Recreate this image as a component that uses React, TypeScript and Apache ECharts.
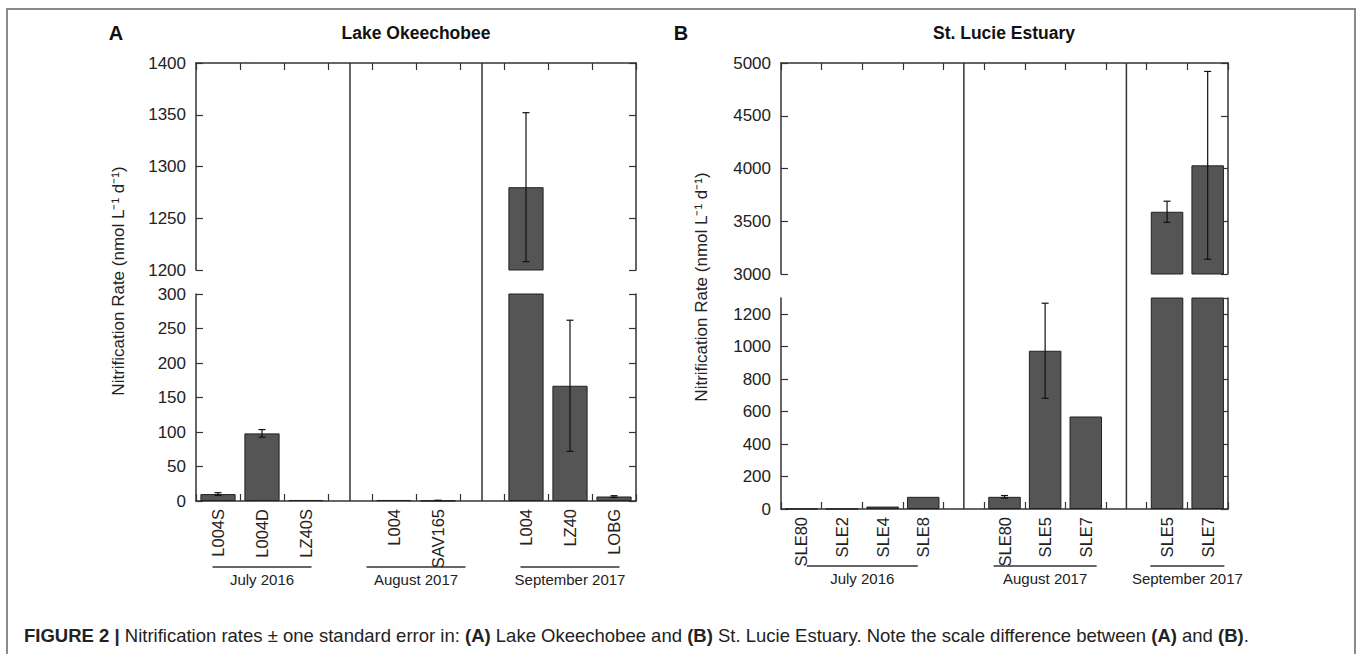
import React, { useEffect, useRef } from "react";
import * as echarts from "echarts";

// ---------- Panel A: Lake Okeechobee ----------
const sitesA = ["L004S", "L004D", "LZ40S", "", "L004", "SAV165", "", "L004", "LZ40", "LOBG"];
const ratesA = [10, 98, 1.5, null, 1.5, 0.5, null, 1280, 167, 6.5];
const seA = [2, 5.5, 0, null, 0, 0.6, null, 72, 95, 1.2];
const groupsA = ["July 2016", "August 2017", "September 2017"];
const groupSpansA = [[0, 2], [4, 5], [7, 9]];
const upperRangeA = [1200, 1400, 50]; // min, max, interval
const lowerRangeA = [0, 300, 50];

// ---------- Panel B: St. Lucie Estuary ----------
const sitesB = ["SLE80", "SLE2", "SLE4", "SLE8", "", "SLE80", "SLE5", "SLE7", "", "SLE5", "SLE7"];
const ratesB = [0, 0, 15, 75, null, 75, 975, 570, null, 3590, 4030];
const seB = [0, 0, 0, 0, null, 8, 293, 0, null, 100, 890];
const groupsB = ["July 2016", "August 2017", "September 2017"];
const groupSpansB = [[0, 3], [5, 7], [9, 10]];
const upperRangeB = [3000, 5000, 500];
const lowerRangeB = [0, 1300, 200];

const titles = ["Lake Okeechobee", "St. Lucie Estuary"];
const letters = ["A", "B"];
const yAxisName = "Nitrification Rate (nmol L\u207B\u00B9 d\u207B\u00B9)";

// ---------- layout / style ----------
const FONT = "'Liberation Sans', Arial, Helvetica, sans-serif";
const AXIS_COLOR = "#333333";
const TEXT_COLOR = "#222222";
const BAR_FILL = "#555555";

const GRIDS = [
  { left: 196, top: 63, width: 440, height: 207 },
  { left: 196, top: 294, width: 440, height: 207 },
  { left: 781, top: 63, width: 447, height: 211 },
  { left: 781, top: 298, width: 447, height: 211 },
];

const PANEL_LAYOUT = [
  { letterX: 116, titleX: 416, nameX: 118, nameY: 281, lineDy: 66, textDy: 78, halfW: [49.5, 49.5, 49.5] },
  { letterX: 681, titleX: 1004, nameX: 701, nameY: 287, lineDy: 57, textDy: 69, halfW: [55.5, 51.5, 37] },
];

const panels = [
  { sites: sitesA, rates: ratesA, se: seA, groups: groupsA, spans: groupSpansA, upper: upperRangeA, lower: lowerRangeA },
  { sites: sitesB, rates: ratesB, se: seB, groups: groupsB, spans: groupSpansB, upper: upperRangeB, lower: lowerRangeB },
];

const errRender = (_params: any, api: any) => {
  const x = api.value(0);
  const y = api.value(1);
  const e = api.value(2);
  const top = api.coord([x, y + e]);
  const bot = api.coord([x, y - e]);
  const c = 3.5;
  const st = { stroke: "#111", lineWidth: 1.2 };
  return {
    type: "group",
    children: [
      { type: "line", shape: { x1: top[0], y1: top[1], x2: bot[0], y2: bot[1] }, style: st },
      { type: "line", shape: { x1: top[0] - c, y1: top[1], x2: top[0] + c, y2: top[1] }, style: st },
      { type: "line", shape: { x1: bot[0] - c, y1: bot[1], x2: bot[0] + c, y2: bot[1] }, style: st },
    ],
  };
};

function buildOption() {
  const grid = GRIDS.map((g) => ({ ...g, containLabel: false, outerBoundsMode: "none" }));
  const xAxis: any[] = [];
  const yAxis: any[] = [];
  const series: any[] = [];
  panels.forEach((p, pi) => {
    [p.upper, p.lower].forEach((range, ri) => {
      const gi = pi * 2 + ri;
      const isUpper = ri === 0;
      xAxis.push({
        type: "category",
        gridIndex: gi,
        data: p.sites,
        position: isUpper ? "top" : "bottom",
        boundaryGap: true,
        axisLine: { show: true, onZero: false, lineStyle: { color: AXIS_COLOR, width: 1.5 } },
        axisTick: { show: true, inside: true, length: 7, interval: 0, lineStyle: { color: AXIS_COLOR, width: 1.2 } },
        axisLabel: isUpper
          ? { show: false }
          : { show: true, interval: 0, rotate: 90, fontSize: 16.5, color: TEXT_COLOR, fontFamily: FONT, margin: 8 },
        splitLine: { show: false },
      });
      const [min, max, interval] = range;
      const common = {
        type: "value",
        gridIndex: gi,
        min,
        max,
        interval,
        splitLine: { show: false },
        axisLine: { show: true, onZero: false, lineStyle: { color: AXIS_COLOR, width: 1.5 } },
        axisTick: { show: true, inside: true, length: 7, lineStyle: { color: AXIS_COLOR, width: 1.2 } },
      };
      yAxis.push({
        ...common,
        position: "left",
        axisLabel: {
          show: true,
          fontSize: 17,
          color: TEXT_COLOR,
          fontFamily: FONT,
          margin: 10,
          showMaxLabel: max % interval === 0,
          formatter: (v: number) => String(v),
        },
      });
      yAxis.push({ ...common, position: "right", axisLabel: { show: false } });
      series.push({
        type: "bar",
        xAxisIndex: gi,
        yAxisIndex: gi * 2,
        z: 2,
        data: p.rates.map((v) => (v == null ? "-" : v)),
        barCategoryGap: "20%",
        clip: true,
        silent: true,
        itemStyle: { color: BAR_FILL, borderColor: "#222", borderWidth: 1 },
      });
      series.push({
        type: "custom",
        xAxisIndex: gi,
        yAxisIndex: gi * 2,
        z: 6,
        clip: true,
        silent: true,
        data: p.se
          .map((e, i) => [i, p.rates[i], e])
          .filter((d) => d[2] != null && (d[2] as number) > 0),
        renderItem: errRender,
      });
    });
  });
  return {
    animation: false,
    backgroundColor: "#ffffff",
    textStyle: { fontFamily: FONT },
    grid,
    xAxis,
    yAxis,
    series,
  };
}

function staticGraphics() {
  const g: any[] = [];
  g.push({
    type: "polyline",
    shape: { points: [[7, 660], [7, 9], [1355, 9], [1355, 660]] },
    style: { stroke: "#8a8a8a", lineWidth: 2, fill: null },
  });
  panels.forEach((_p, pi) => {
    const L = PANEL_LAYOUT[pi];
    g.push({
      type: "text",
      x: L.letterX,
      y: 33,
      style: {
        text: letters[pi], fontSize: 20, fontWeight: "bold", fontFamily: FONT, fill: "#111",
        align: "center", verticalAlign: "middle", textAlign: "center", textVerticalAlign: "middle",
      },
    });
    g.push({
      type: "text",
      x: L.titleX,
      y: 33,
      style: {
        text: titles[pi], fontSize: 17.5, fontWeight: "bold", fontFamily: FONT, fill: "#111",
        align: "center", verticalAlign: "middle", textAlign: "center", textVerticalAlign: "middle",
      },
    });
    g.push({
      type: "text",
      x: L.nameX,
      y: L.nameY,
      rotation: Math.PI / 2,
      style: {
        text: yAxisName, fontSize: 17, fontFamily: FONT, fill: TEXT_COLOR,
        align: "center", verticalAlign: "middle", textAlign: "center", textVerticalAlign: "middle",
      },
    });
  });
  g.push({
    type: "text",
    x: 24,
    y: 635,
    style: {
      text:
        "{b|FIGURE 2 |}{n| Nitrification rates \u00B1 one standard error in: }{b|(A)}{n| Lake Okeechobee and }{b|(B)}{n| St. Lucie Estuary. Note the scale difference between }{b|(A)}{n| and }{b|(B)}{n|.}",
      align: "left", verticalAlign: "middle", textAlign: "left", textVerticalAlign: "middle",
      rich: {
        b: { fontSize: 18.5, fontWeight: "bold", fontFamily: FONT, fill: "#222" },
        n: { fontSize: 18.5, fontFamily: FONT, fill: "#222" },
      },
    },
  });
  return g;
}

function dynamicGraphics(chart: any) {
  const g: any[] = [];
  panels.forEach((p, pi) => {
    const L = PANEL_LAYOUT[pi];
    const gU = pi * 2;
    const gL = pi * 2 + 1;
    const yTop = chart.convertToPixel({ yAxisIndex: gU * 2 }, p.upper[1]);
    const yBot = chart.convertToPixel({ yAxisIndex: gL * 2 }, p.lower[0]);
    p.sites.forEach((s, i) => {
      if (s === "") {
        const x = chart.convertToPixel({ xAxisIndex: gL }, i);
        g.push({
          type: "line",
          shape: { x1: x, y1: yTop, x2: x, y2: yBot },
          style: { stroke: AXIS_COLOR, lineWidth: 1.5 },
        });
      }
    });
    p.spans.forEach(([a, b], k) => {
      const xa = chart.convertToPixel({ xAxisIndex: gL }, a);
      const xb = chart.convertToPixel({ xAxisIndex: gL }, b);
      const cx = (xa + xb) / 2;
      const hw = L.halfW[k];
      g.push({
        type: "line",
        shape: { x1: cx - hw, y1: yBot + L.lineDy, x2: cx + hw, y2: yBot + L.lineDy },
        style: { stroke: AXIS_COLOR, lineWidth: 1.3 },
      });
      g.push({
        type: "text",
        x: cx,
        y: yBot + L.textDy,
        style: {
          text: p.groups[k], fontSize: 15, fontFamily: FONT, fill: TEXT_COLOR,
          align: "center", verticalAlign: "middle", textAlign: "center", textVerticalAlign: "middle",
        },
      });
    });
  });
  return g;
}

export default function App() {
  const ref = useRef<HTMLDivElement>(null);
  useEffect(() => {
    if (!ref.current) return;
    const chart = echarts.init(ref.current, undefined, { renderer: "svg" });
    chart.setOption(buildOption() as any);
    chart.setOption({ graphic: [...staticGraphics(), ...dynamicGraphics(chart)] } as any);
    return () => chart.dispose();
  }, []);
  return (
    <div
      ref={ref}
      style={{ position: "absolute", left: 0, top: 0, width: 1357, height: 654, background: "#fff" }}
    />
  );
}
